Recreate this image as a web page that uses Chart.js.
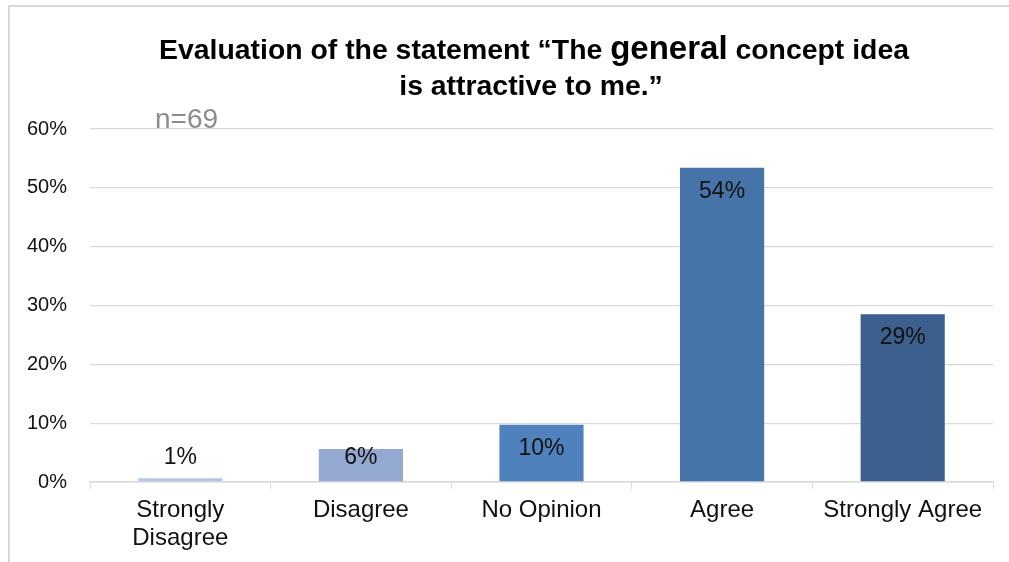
<!DOCTYPE html>
<html>
<head>
<meta charset="utf-8">
<script src="https://cdn.jsdelivr.net/npm/chart.js@4.4.0/dist/chart.umd.min.js"></script>
<style>
  html, body { margin: 0; padding: 0; background: #fff; }
  #wrap { width: 1009px; height: 562px; }
</style>
</head>
<body>
<div id="wrap"><canvas id="c" width="1009" height="562"></canvas></div>
<script>
var categories = [['Strongly', 'Disagree'], 'Disagree', 'No Opinion', 'Agree', 'Strongly Agree'];
var shares = [0.8, 5.8, 9.9, 53.6, 28.7];
var barColors = ['#b4c7e7', '#94a9d1', '#4f81bd', '#4674a8', '#3c5f8e'];
var yTicks = [0, 10, 20, 30, 40, 50, 60];
var titleParts = [['Evaluation of the statement \u201cThe ', 28.4], ['general', 33], [' concept idea', 28.4]];
var titleLine2 = 'is attractive to me.\u201d';
var sampleNote = 'n=69';

var FONT = '"Liberation Sans", Arial, sans-serif';

// frame lines on top and left, like the cropped slide
var framePlugin = {
  id: 'frame',
  beforeDraw: function (chart) {
    var ctx = chart.ctx;
    ctx.save();
    ctx.strokeStyle = '#d9d9d9';
    ctx.lineWidth = 2;
    ctx.beginPath();
    ctx.moveTo(8, 6); ctx.lineTo(1009, 6);
    ctx.moveTo(9, 6); ctx.lineTo(9, 562);
    ctx.stroke();
    ctx.restore();
  }
};

// two-line title with the bigger "general", plus the n= note
var titlePlugin = {
  id: 'mixedTitle',
  afterDraw: function (chart) {
    var ctx = chart.ctx;
    var cx = 534;
    ctx.save();
    ctx.fillStyle = '#000';
    ctx.textBaseline = 'alphabetic';
    ctx.textAlign = 'left';
    var total = 0;
    titleParts.forEach(function (p) {
      ctx.font = 'bold ' + p[1] + 'px ' + FONT;
      total += ctx.measureText(p[0]).width;
    });
    var x = cx - total / 2;
    titleParts.forEach(function (p) {
      ctx.font = 'bold ' + p[1] + 'px ' + FONT;
      ctx.fillText(p[0], x, 59);
      x += ctx.measureText(p[0]).width;
    });
    ctx.font = 'bold 28.4px ' + FONT;
    ctx.textAlign = 'center';
    ctx.fillText(titleLine2, 531, 95);

    ctx.font = '28px ' + FONT;
    ctx.textAlign = 'left';
    ctx.fillStyle = '#8c8c8c';
    ctx.fillText(sampleNote, 155, 128);
    ctx.restore();
  }
};

// value labels near the top end of each bar
var valueLabels = {
  id: 'valueLabels',
  afterDatasetsDraw: function (chart) {
    var ctx = chart.ctx;
    var meta = chart.getDatasetMeta(0);
    ctx.save();
    ctx.font = '23px ' + FONT;
    ctx.fillStyle = '#111';
    ctx.textAlign = 'center';
    ctx.textBaseline = 'middle';
    meta.data.forEach(function (bar, i) {
      var y = Math.min(bar.y + 25, bar.base - 24);
      ctx.fillText(Math.round(shares[i]) + '%', bar.x, y);
    });
    ctx.restore();
  }
};

new Chart(document.getElementById('c'), {
  type: 'bar',
  data: {
    labels: categories,
    datasets: [{
      data: shares,
      backgroundColor: barColors,
      borderColor: 'rgba(255,255,255,0.35)',
      borderWidth: 1,
      borderSkipped: 'bottom',
      categoryPercentage: 1,
      barPercentage: 0.477
    }]
  },
  options: {
    responsive: false,
    animation: false,
    devicePixelRatio: 1,
    layout: { padding: { top: 129, right: 16, left: 0, bottom: 0 } },
    plugins: {
      legend: { display: false },
      title: { display: false },
      tooltip: { enabled: false }
    },
    scales: {
      x: {
        grid: { offset: true, drawOnChartArea: false, drawTicks: true, tickLength: 7, color: '#d9d9d9' },
        border: { display: true, color: '#d9d9d9', width: 1.5 },
        ticks: {
          color: '#111',
          padding: 7,
          maxRotation: 0,
          autoSkip: false,
          font: { family: FONT, size: 24, lineHeight: 1.17 }
        },
        afterFit: function (scale) { scale.height = 80; }
      },
      y: {
        min: yTicks[0],
        max: yTicks[yTicks.length - 1],
        afterBuildTicks: function (scale) {
          scale.ticks = yTicks.map(function (v) { return { value: v }; });
        },
        grid: { color: '#d9d9d9', lineWidth: 1.2, drawTicks: false },
        border: { display: false },
        ticks: {
          color: '#111',
          padding: 23,
          font: { family: FONT, size: 20 },
          callback: function (v) { return v + '%'; }
        },
        afterFit: function (scale) { scale.width = 90; }
      }
    }
  },
  plugins: [framePlugin, valueLabels, titlePlugin]
});
</script>
</body>
</html>
